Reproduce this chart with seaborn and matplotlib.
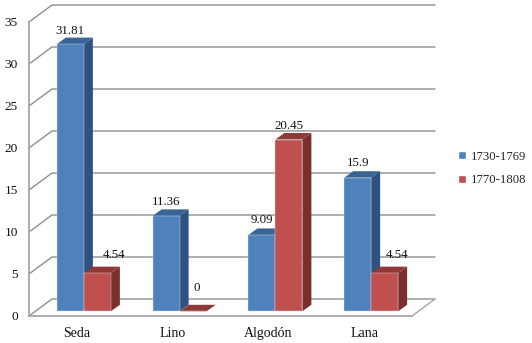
import pandas as pd
import seaborn as sns
import matplotlib.pyplot as plt
from matplotlib.patches import Patch, Polygon

# Values
categories = ['Seda', 'Lino', 'Algodón', 'Lana']
series_names = ['1730-1769', '1770-1808']
values_first = [31.81, 11.36, 9.09, 15.9]
values_second = [4.54, 0, 20.45, 4.54]
y_ticks = [0, 5, 10, 15, 20, 25, 30, 35]

# Fill colours: front, side, top
blue_shades = ('#4f81bd', '#2f5180', '#3a6496')
red_shades = ('#c0504d', '#7b2f2d', '#8f3a38')

PX_X = 383 / 4   # pixels per category
PX_Y = 294 / 35  # pixels per unit


def px(dx, dy):
    # Convert a pixel offset into data units
    return dx / PX_X, dy / PX_Y


def draw_walls(ax):
    wall_x, wall_y = px(23, 17)
    for tick in y_ticks:
        ax.plot([-0.5, -0.5 + wall_x, 3.5 + wall_x], [tick, tick + wall_y, tick + wall_y],
                color='#8f8f8f', lw=1.0, clip_on=False, zorder=1)
    ax.plot([3.5, 3.5 + wall_x], [0, wall_y], color='#a6a6a6', lw=1.0, clip_on=False, zorder=1)


def add_depth(ax, bar, shades):
    # Move the flat seaborn bar back onto the floor and add its side and top
    shift_x, shift_y = px(7, 4.7)
    depth_x, depth_y = px(9, 6.5)
    bar.set_x(bar.get_x() + shift_x)
    bar.set_y(shift_y)
    bar.set_clip_on(False)
    bar.set_zorder(4)
    left = bar.get_x()
    right = left + bar.get_width()
    low = bar.get_y()
    high = low + bar.get_height()
    side = [(right, low), (right + depth_x, low + depth_y), (right + depth_x, high + depth_y), (right, high)]
    top = [(left, high), (right, high), (right + depth_x, high + depth_y), (left + depth_x, high + depth_y)]
    ax.add_patch(Polygon(side, facecolor=shades[1], edgecolor='none', clip_on=False, zorder=3))
    ax.add_patch(Polygon(top, facecolor=shades[2], edgecolor='none', clip_on=False, zorder=3))


def main():
    sns.set_style('white')
    plt.rcParams['font.family'] = ['Liberation Serif', 'DejaVu Serif']
    plt.rcParams['font.size'] = 9.1

    data = pd.DataFrame({
        'category': categories * 2,
        'period': [series_names[0]] * 4 + [series_names[1]] * 4,
        'value': values_first + values_second,
    })

    fig = plt.figure(figsize=(5.32, 3.43), dpi=100)
    ax = fig.add_axes([29 / 532, 27 / 343, 383 / 532, 294 / 343])

    sns.barplot(data=data, x='category', y='value', hue='period', order=categories,
                hue_order=series_names, palette=[blue_shades[0], red_shades[0]],
                width=54 / PX_X, saturation=1, errorbar=None, legend=False,
                edgecolor='#d5dde8', linewidth=0.3, ax=ax)

    ax.set_xlim(-0.5, 3.5)
    ax.set_ylim(0, 35)
    draw_walls(ax)

    bars = [b for b in ax.patches if isinstance(b, plt.Rectangle)][:8]
    shades = [blue_shades] * 4 + [red_shades] * 4
    for bar, shade in zip(bars, shades):
        add_depth(ax, bar, shade)

    # Value labels, nudged by hand like in the original
    label_offsets = [(0, 13), (0, 14), (0, 15), (0, 15), (17, 18), (4, 23), (0, 14), (12, 18)]
    for bar, value, offset in zip(bars, values_first + values_second, label_offsets):
        ax.annotate(f'{value:g}', (bar.get_x() + bar.get_width() / 2, bar.get_y() + bar.get_height()),
                    xytext=offset, textcoords='offset pixels', ha='center', va='center',
                    fontsize=9.3, color='#111111', zorder=6, annotation_clip=False)

    ax.set_xlabel('')
    ax.set_ylabel('')
    ax.set_yticks(y_ticks)
    ax.tick_params(axis='y', length=0, pad=8, labelsize=9.6, labelcolor='#111111')
    ax.tick_params(axis='x', length=0, pad=8, labelsize=10, labelcolor='#111111')
    for label in ax.get_xticklabels() + ax.get_yticklabels():
        label.set_clip_on(False)

    sns.despine(ax=ax)
    for name in ['left', 'bottom']:
        ax.spines[name].set_color('#a6a6a6')
        ax.spines[name].set_linewidth(1.3)
    ax.patch.set_alpha(0)

    handles = [Patch(facecolor=blue_shades[0], label=series_names[0]),
               Patch(facecolor=red_shades[0], label=series_names[1])]
    fig.legend(handles=handles, loc='center left', bbox_to_anchor=(458 / 532, 1 - 168.5 / 343),
               frameon=False, fontsize=9.2, handlelength=0.62, handleheight=0.62,
               handletextpad=0.38, labelspacing=0.9, borderpad=0, borderaxespad=0)

    fig.savefig('out.png', dpi=100, facecolor='white')
    plt.close(fig)


if __name__ == '__main__':
    main()
